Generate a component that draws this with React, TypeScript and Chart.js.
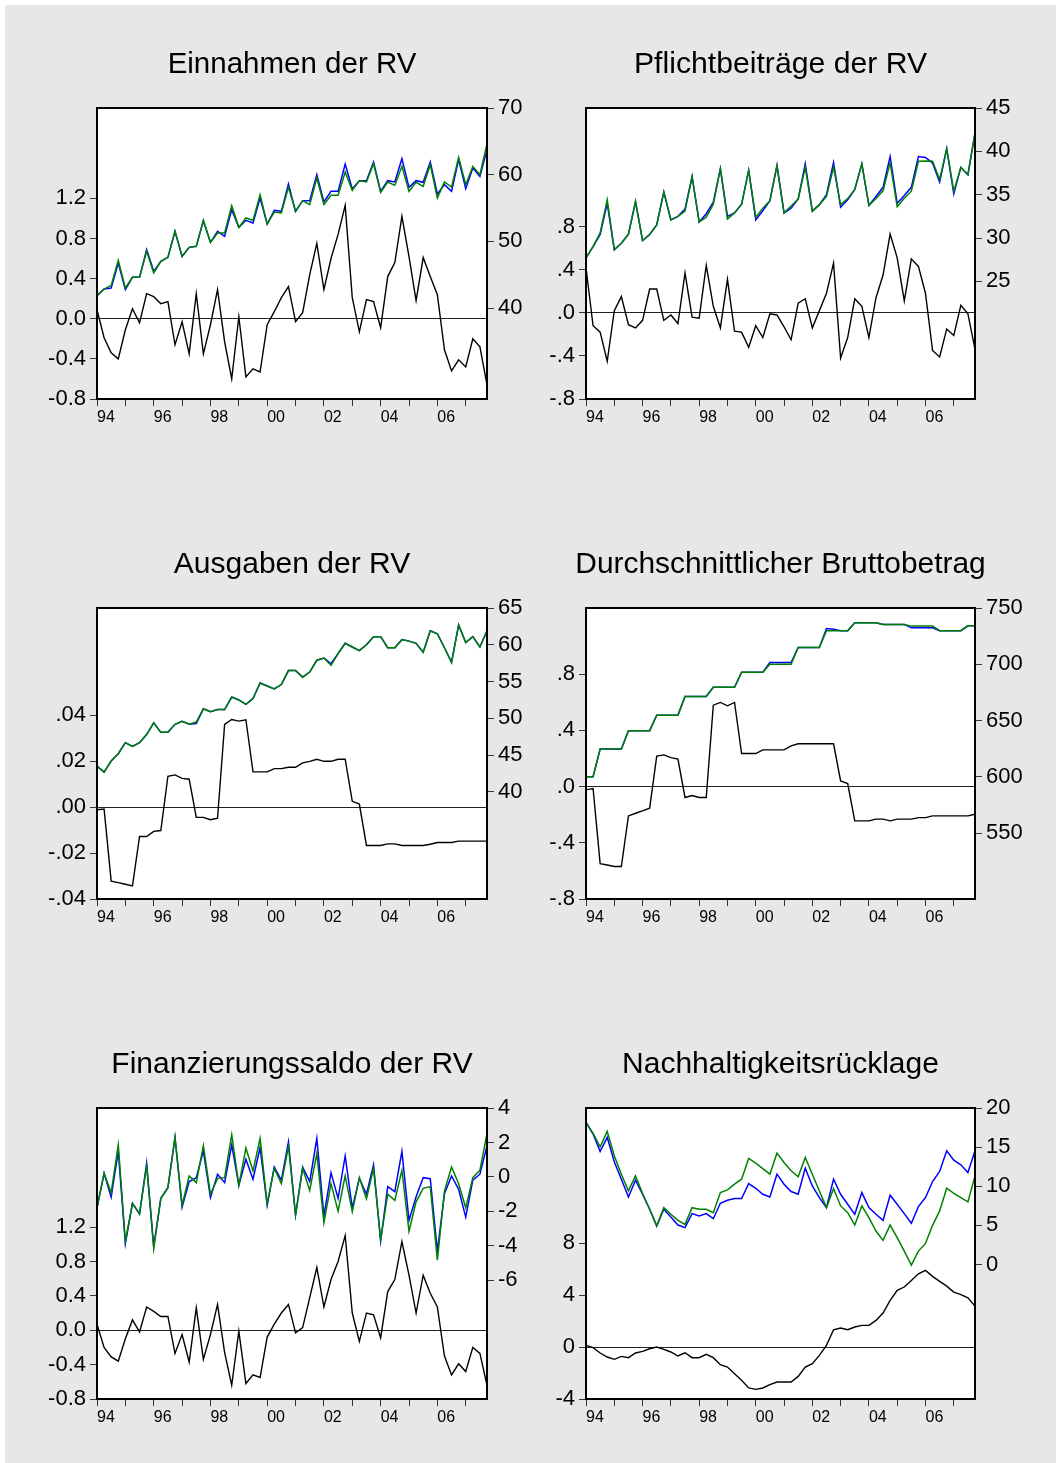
import React, { useEffect, useRef } from "react";
import { Chart, registerables } from "chart.js";

Chart.register(...registerables);

const FONT = "'Liberation Sans', Arial, Helvetica, sans-serif";

// ---- categories ----
const years = [1994, 1995, 1996, 1997, 1998, 1999, 2000, 2001, 2002, 2003, 2004, 2005, 2006, 2007];
const quarters: string[] = years.flatMap((y) => ["Q1", "Q2", "Q3", "Q4"].map((q) => `${y}${q}`));
const xTickYears = ["94", "", "96", "", "98", "", "00", "", "02", "", "04", "", "06", ""];

// ---- Einnahmen der RV ----
const einResid = [0.09, -0.19, -0.34, -0.40, -0.11, 0.10, -0.04, 0.25, 0.22, 0.15, 0.17, -0.26, -0.03, -0.35, 0.25, -0.35, -0.06, 0.29, -0.23, -0.60, 0.02, -0.58, -0.50, -0.53, -0.06, 0.07, 0.21, 0.32, -0.03, 0.06, 0.44, 0.75, 0.29, 0.60, 0.84, 1.13, 0.21, -0.13, 0.19, 0.17, -0.09, 0.42, 0.56, 1.02, 0.62, 0.18, 0.61, 0.42, 0.24, -0.31, -0.52, -0.41, -0.48, -0.20, -0.28, -0.66];
const einActual = [41.85, 42.85, 43.0, 46.75, 42.75, 44.6, 44.6, 48.75, 45.5, 47.0, 47.6, 51.5, 47.75, 49.1, 49.25, 53.1, 49.85, 51.5, 50.75, 54.75, 52.1, 53.15, 52.75, 56.5, 52.6, 54.65, 54.5, 58.6, 54.5, 56.1, 56.1, 60.0, 55.9, 57.5, 57.5, 61.6, 57.85, 59.1, 59.1, 61.9, 57.5, 59.1, 58.9, 62.4, 58.1, 59.1, 58.85, 61.9, 57.1, 58.5, 57.5, 62.25, 57.9, 61.0, 59.75, 63.75];
const einFitted = [41.85, 42.85, 43.4, 47.15, 43.0, 44.6, 44.6, 48.5, 45.25, 47.0, 47.6, 51.5, 47.75, 49.1, 49.25, 53.1, 49.85, 51.25, 51.25, 55.35, 52.1, 53.5, 53.15, 57.0, 52.6, 54.4, 54.25, 58.1, 54.5, 56.1, 55.5, 59.5, 55.5, 56.9, 56.9, 60.4, 57.65, 59.1, 58.9, 61.65, 57.35, 58.9, 58.4, 61.25, 57.5, 58.85, 58.25, 61.5, 56.5, 58.9, 58.15, 62.6, 58.5, 61.25, 60.0, 64.6];
const einLeftTicks = [-0.8, -0.4, 0, 0.4, 0.8, 1.2];
const einLeftLabels = ["-0.8", "-0.4", "0.0", "0.4", "0.8", "1.2"];
const einRightTicks = [40, 50, 60, 70];

// ---- Pflichtbeiträge der RV ----
const pflResid = [0.42, -0.12, -0.18, -0.45, 0.02, 0.15, -0.11, -0.14, -0.07, 0.22, 0.22, -0.07, -0.02, -0.10, 0.37, -0.04, -0.05, 0.44, 0.06, -0.14, 0.31, -0.17, -0.18, -0.32, -0.12, -0.23, -0.01, -0.02, -0.13, -0.25, 0.09, 0.13, -0.14, 0.02, 0.18, 0.46, -0.42, -0.23, 0.13, 0.06, -0.23, 0.14, 0.35, 0.73, 0.51, 0.11, 0.50, 0.43, 0.18, -0.35, -0.41, -0.15, -0.21, 0.07, -0.01, -0.34];
const pflActual = [27.7, 29.0, 30.4, 34.0, 28.65, 29.4, 30.45, 34.2, 29.7, 30.4, 31.5, 35.3, 32.1, 32.5, 33.35, 37.1, 31.85, 32.8, 34.15, 38.0, 32.5, 32.9, 33.9, 37.8, 32.1, 33.15, 34.3, 38.35, 32.9, 33.45, 34.5, 38.55, 33.1, 33.85, 35.0, 38.7, 33.55, 34.4, 35.6, 38.55, 33.75, 34.8, 35.85, 39.4, 34.0, 34.9, 35.85, 39.4, 39.3, 38.65, 36.45, 40.3, 35.1, 38.15, 37.3, 42.1];
const pflFitted = [27.7, 29.0, 30.6, 34.4, 28.65, 29.4, 30.45, 34.2, 29.7, 30.4, 31.5, 35.3, 32.1, 32.5, 33.1, 37.1, 31.85, 32.4, 33.9, 38.0, 32.2, 32.9, 33.9, 37.8, 32.4, 33.45, 34.3, 38.35, 32.9, 33.7, 34.5, 38.15, 33.1, 33.85, 34.8, 38.15, 33.85, 34.55, 35.6, 38.55, 33.75, 34.55, 35.45, 38.7, 33.6, 34.6, 35.4, 38.85, 38.9, 38.85, 36.75, 40.3, 35.4, 38.15, 37.3, 42.1];
const pflLeftTicks = [-0.8, -0.4, 0, 0.4, 0.8];
const pflLeftLabels = ["-.8", "-.4", ".0", ".4", ".8"];
const pflRightTicks = [25, 30, 35, 40, 45];

// ---- Ausgaben der RV ----
const ausResid = [-0.0012, -0.0009, -0.0322, -0.0329, -0.0336, -0.0343, -0.0128, -0.0128, -0.0106, -0.0102, 0.0134, 0.0140, 0.0125, 0.0121, -0.0045, -0.0045, -0.0055, -0.0048, 0.0360, 0.0381, 0.0374, 0.0380, 0.0153, 0.0153, 0.0153, 0.0167, 0.0167, 0.0173, 0.0173, 0.0192, 0.0199, 0.0208, 0.0199, 0.0199, 0.0208, 0.0208, 0.0025, 0.0013, -0.0167, -0.0167, -0.0167, -0.0160, -0.0160, -0.0167, -0.0167, -0.0167, -0.0167, -0.0162, -0.0154, -0.0154, -0.0154, -0.0148, -0.0148, -0.0148, -0.0148, -0.0148];
const ausActual = [43.5, 42.7, 44.2, 45.2, 46.7, 46.2, 46.7, 47.8, 49.4, 48.1, 48.1, 49.2, 49.6, 49.2, 49.3, 51.3, 50.9, 51.2, 51.2, 52.9, 52.5, 51.9, 52.7, 54.8, 54.4, 54.0, 54.6, 56.5, 56.5, 55.6, 56.3, 57.9, 58.2, 57.45, 58.8, 60.2, 59.7, 59.2, 60.0, 61.1, 61.1, 59.6, 59.6, 60.7, 60.5, 60.2, 59.0, 61.9, 61.5, 59.6, 57.6, 62.7, 60.3, 61.1, 59.7, 61.9];
const ausFitted = [43.5, 42.7, 44.2, 45.2, 46.7, 46.2, 46.7, 47.8, 49.4, 48.1, 48.1, 49.2, 49.6, 49.2, 49.5, 51.3, 50.9, 51.2, 51.2, 52.9, 52.5, 51.9, 52.7, 54.8, 54.4, 54.0, 54.6, 56.5, 56.5, 55.6, 56.3, 57.9, 58.2, 57.2, 58.8, 60.2, 59.7, 59.2, 60.0, 61.1, 61.1, 59.6, 59.6, 60.7, 60.5, 60.2, 59.0, 61.9, 61.5, 59.6, 57.6, 62.7, 60.3, 61.1, 59.7, 61.9];
const ausLeftTicks = [-0.04, -0.02, 0, 0.02, 0.04];
const ausLeftLabels = ["-.04", "-.02", ".00", ".02", ".04"];
const ausRightTicks = [40, 45, 50, 55, 60, 65];

// ---- Durchschnittlicher Bruttobetrag ----
const brtResid = [-0.024, -0.014, -0.548, -0.558, -0.569, -0.569, -0.209, -0.19, -0.173, -0.154, 0.216, 0.225, 0.206, 0.195, -0.078, -0.064, -0.078, -0.078, 0.579, 0.598, 0.574, 0.598, 0.235, 0.235, 0.235, 0.261, 0.261, 0.261, 0.261, 0.289, 0.304, 0.304, 0.304, 0.304, 0.304, 0.304, 0.040, 0.021, -0.244, -0.244, -0.244, -0.232, -0.232, -0.244, -0.232, -0.232, -0.232, -0.221, -0.221, -0.209, -0.209, -0.209, -0.209, -0.209, -0.209, -0.197];
const brtActual = [600, 600, 624.7, 624.7, 624.7, 624.7, 641, 641, 641, 641, 654.8, 654.8, 654.8, 654.8, 671.4, 671.4, 671.4, 671.4, 679.5, 679.5, 679.5, 679.5, 692.9, 692.9, 692.9, 692.9, 701.5, 701.5, 701.5, 701.5, 714.9, 714.9, 714.9, 714.9, 731.8, 731.2, 729.8, 729.8, 736.9, 736.9, 736.9, 736.9, 735.4, 735.4, 735.4, 735.4, 732.4, 732.4, 732.4, 732.4, 729.8, 729.8, 729.8, 729.8, 734.2, 734.2];
const brtFitted = [600, 600, 624.7, 624.7, 624.7, 624.7, 641, 641, 641, 641, 654.8, 654.8, 654.8, 654.8, 671.4, 671.4, 671.4, 671.4, 679.5, 679.5, 679.5, 679.5, 692.9, 692.9, 692.9, 692.9, 700, 700, 700, 700, 714.9, 714.9, 714.9, 714.9, 729.8, 729.8, 729.8, 729.8, 736.9, 736.9, 736.9, 736.9, 735.4, 735.4, 735.4, 735.4, 733.9, 733.9, 733.9, 733.9, 729.8, 729.8, 729.8, 729.8, 734.2, 734.2];
const brtLeftTicks = [-0.8, -0.4, 0, 0.4, 0.8];
const brtLeftLabels = ["-.8", "-.4", ".0", ".4", ".8"];
const brtRightTicks = [550, 600, 650, 700, 750];

// ---- Finanzierungssaldo der RV ----
const finResid = [0.07, -0.2, -0.31, -0.36, -0.1, 0.12, -0.02, 0.27, 0.22, 0.16, 0.16, -0.27, -0.05, -0.37, 0.26, -0.34, -0.05, 0.3, -0.26, -0.64, -0.01, -0.62, -0.52, -0.55, -0.08, 0.07, 0.2, 0.3, -0.03, 0.03, 0.38, 0.73, 0.27, 0.59, 0.8, 1.1, 0.2, -0.13, 0.2, 0.18, -0.09, 0.45, 0.59, 1.03, 0.64, 0.2, 0.64, 0.43, 0.27, -0.3, -0.52, -0.39, -0.48, -0.2, -0.27, -0.64];
const finActual = [-1.79, 0.21, -1.17, 1.5, -3.88, -1.53, -2.14, 0.8, -4.02, -1.24, -0.62, 2.29, -1.75, -0.27, -0.04, 1.51, -1.2, 0.16, -0.33, 1.86, -0.49, 1.03, -0.14, 1.71, -1.65, 0.58, -0.19, 2.04, -2.21, 0.58, -0.27, 2.23, -2.27, 0.25, -1.24, 1.22, -1.79, -0.08, -1.0, 0.7, -3.73, -0.56, -0.85, 1.48, -2.52, -1.15, -0.04, -0.1, -4.31, -0.97, 0.06, -0.72, -2.33, -0.19, 0.16, 1.81];
const finFitted = [-1.79, 0.21, -0.91, 1.86, -3.73, -1.53, -2.14, 0.64, -4.16, -1.24, -0.62, 2.29, -1.63, 0.06, -0.33, 1.81, -1.0, -0.08, -0.04, 2.45, -0.49, 1.67, 0.35, 2.23, -1.55, 0.5, -0.39, 1.77, -2.21, 0.5, -0.78, 1.37, -2.66, -0.39, -1.98, 0.06, -2.02, -0.04, -1.26, 0.5, -3.63, -1.0, -1.36, 0.39, -3.15, -1.44, -0.66, -0.56, -4.83, -0.82, 0.58, -0.39, -1.79, -0.04, 0.39, 2.52];
const finLeftTicks = [-0.8, -0.4, 0, 0.4, 0.8, 1.2];
const finLeftLabels = ["-0.8", "-0.4", "0.0", "0.4", "0.8", "1.2"];
const finRightTicks = [-6, -4, -2, 0, 2, 4];

// ---- Nachhaltigkeitsrücklage ----
const nhrResid = [0.13, -0.05, -0.46, -0.77, -0.95, -0.72, -0.82, -0.46, -0.33, -0.13, 0.0, -0.18, -0.38, -0.69, -0.44, -0.82, -0.82, -0.56, -0.82, -1.36, -1.54, -2.05, -2.56, -3.15, -3.26, -3.15, -2.9, -2.69, -2.69, -2.69, -2.26, -1.54, -1.28, -0.64, 0.13, 1.33, 1.46, 1.33, 1.54, 1.67, 1.67, 2.05, 2.62, 3.59, 4.36, 4.62, 5.13, 5.64, 5.9, 5.44, 5.05, 4.69, 4.23, 4.03, 3.79, 3.15];
const nhrActual = [18.16, 16.67, 14.44, 16.24, 13.12, 10.9, 8.63, 10.77, 8.97, 7.05, 4.91, 7.05, 6.07, 5.04, 4.7, 6.5, 6.2, 6.5, 5.85, 7.82, 8.21, 8.42, 8.42, 10.34, 9.74, 8.97, 8.63, 11.54, 10.26, 9.32, 8.97, 12.31, 10.04, 8.55, 7.26, 10.9, 8.97, 7.69, 6.41, 9.19, 7.26, 6.41, 5.64, 8.85, 7.69, 6.5, 5.26, 7.39, 8.55, 10.6, 11.88, 14.53, 13.33, 12.74, 11.75, 14.53];
const nhrFitted = [18.16, 16.75, 15.04, 17.0, 13.89, 11.54, 9.4, 11.32, 9.06, 7.05, 4.91, 7.26, 6.41, 5.64, 5.13, 7.26, 7.05, 7.05, 6.62, 9.19, 9.53, 10.26, 10.9, 13.55, 12.95, 12.26, 11.54, 14.23, 13.03, 11.97, 11.2, 13.68, 11.54, 9.4, 7.26, 9.7, 7.48, 6.62, 5.04, 7.48, 5.98, 4.27, 3.08, 5.04, 3.42, 1.71, -0.09, 1.71, 2.69, 5.0, 6.84, 9.74, 9.1, 8.55, 7.99, 11.32];
const nhrLeftTicks = [-4, 0, 4, 8];
const nhrLeftLabels = ["-4", "0", "4", "8"];
const nhrRightTicks = [0, 5, 10, 15, 20];

type Spec = {
  title: string;
  titleSize: number;
  resid: number[];
  actual: number[];
  fitted: number[];
  leftMin: number;
  leftMax: number;
  leftTicks: number[];
  leftLabels: string[];
  rightMin: number;
  rightMax: number;
  rightTicks: number[];
  left: number;
  top: number;
  plotW: number;
};

const AXIS_W = 87; // both side axes the same width so the title centres over the plot
const CANVAS_H = 420;

const specs: Spec[] = [
  { title: "Einnahmen der RV", titleSize: 29.5, resid: einResid, actual: einActual, fitted: einFitted, leftMin: -0.8, leftMax: 2.1, leftTicks: einLeftTicks, leftLabels: einLeftLabels, rightMin: 26.35, rightMax: 70, rightTicks: einRightTicks, left: 10, top: 20, plotW: 390 },
  { title: "Pflichtbeiträge der RV", titleSize: 30.2, resid: pflResid, actual: pflActual, fitted: pflFitted, leftMin: -0.8, leftMax: 1.9, leftTicks: pflLeftTicks, leftLabels: pflLeftLabels, rightMin: 11.43, rightMax: 45, rightTicks: pflRightTicks, left: 499, top: 20, plotW: 389 },
  { title: "Ausgaben der RV", titleSize: 30, resid: ausResid, actual: ausActual, fitted: ausFitted, leftMin: -0.04, leftMax: 0.0866, leftTicks: ausLeftTicks, leftLabels: ausLeftLabels, rightMin: 25.45, rightMax: 65, rightTicks: ausRightTicks, left: 10, top: 520, plotW: 390 },
  { title: "Durchschnittlicher Bruttobetrag", titleSize: 29.9, resid: brtResid, actual: brtActual, fitted: brtFitted, leftMin: -0.8, leftMax: 1.27, leftTicks: brtLeftTicks, leftLabels: brtLeftLabels, rightMin: 491.4, rightMax: 750, rightTicks: brtRightTicks, left: 499, top: 520, plotW: 389 },
  { title: "Finanzierungssaldo der RV", titleSize: 30, resid: finResid, actual: finActual, fitted: finFitted, leftMin: -0.8, leftMax: 2.585, leftTicks: finLeftTicks, leftLabels: finLeftLabels, rightMin: -12.88, rightMax: 4, rightTicks: finRightTicks, left: 10, top: 1020, plotW: 390 },
  { title: "Nachhaltigkeitsrücklage", titleSize: 30, resid: nhrResid, actual: nhrActual, fitted: nhrFitted, leftMin: -4, leftMax: 18.4, leftTicks: nhrLeftTicks, leftLabels: nhrLeftLabels, rightMin: -17.2, rightMax: 20, rightTicks: nhrRightTicks, left: 499, top: 1020, plotW: 389 },
];

const framePlugin = {
  id: "frame",
  beforeDraw(chart: any) {
    const { ctx, chartArea: a } = chart;
    ctx.save();
    ctx.fillStyle = "#ffffff";
    ctx.fillRect(a.left, a.top, a.right - a.left, a.bottom - a.top);
    ctx.restore();
  },
  afterDraw(chart: any) {
    const { ctx, chartArea: a } = chart;
    ctx.save();
    ctx.strokeStyle = "#000000";
    ctx.lineWidth = 2;
    ctx.strokeRect(a.left, a.top, a.right - a.left, a.bottom - a.top);
    ctx.restore();
  },
};

function Panel({ spec }: { spec: Spec }) {
  const ref = useRef<HTMLCanvasElement>(null);
  const canvasW = AXIS_W * 2 + spec.plotW;
  useEffect(() => {
    if (!ref.current) return;
    const tickFont = { family: FONT, size: 22 };
    const titleLine = spec.titleSize * 1.2;
    const titleTop = 45 - titleLine / 2;
    const titleBottom = 88 - titleTop - titleLine;
    const chart = new Chart(ref.current, {
      type: "line",
      data: {
        labels: quarters,
        datasets: [
          { label: "Fitted", data: spec.fitted, borderColor: "#008000", borderWidth: 1.5, yAxisID: "yR" },
          { label: "Actual", data: spec.actual, borderColor: "#0000ff", borderWidth: 1.5, yAxisID: "yR" },
          { label: "Residual", data: spec.resid, borderColor: "#000000", borderWidth: 1.4, yAxisID: "yL" },
        ],
      },
      options: {
        responsive: false,
        animation: false,
        devicePixelRatio: 1,
        events: [],
        layout: { padding: 0 },
        elements: { point: { radius: 0 }, line: { tension: 0, fill: false } },
        plugins: {
          legend: { display: false },
          tooltip: { enabled: false },
          title: {
            display: true,
            text: spec.title,
            color: "#000000",
            font: { family: FONT, size: spec.titleSize, weight: "normal", lineHeight: 1.2 },
            padding: { top: titleTop, bottom: titleBottom },
          },
        },
        scales: {
          x: {
            type: "category",
            offset: false,
            grid: { drawOnChartArea: false, drawTicks: true, tickLength: 7, tickColor: "#333333", lineWidth: 1, offset: false },
            border: { display: false },
            ticks: {
              autoSkip: false,
              maxRotation: 0,
              minRotation: 0,
              align: "start",
              padding: 2,
              color: "#000000",
              font: { family: FONT, size: 16 },
              callback: (v: any) => xTickYears[Math.round(Number(v) / 4)] ?? "",
            },
            afterBuildTicks: (s: any) => {
              s.ticks = s.ticks.filter((t: any) => t.value % 4 === 0);
            },
            afterFit: (s: any) => {
              s.height = 41;
            },
          },
          yL: {
            type: "linear",
            position: "left",
            min: spec.leftMin,
            max: spec.leftMax,
            afterBuildTicks: (s: any) => {
              s.ticks = spec.leftTicks.map((v) => ({ value: v }));
            },
            ticks: {
              color: "#000000",
              font: tickFont,
              padding: 4,
              callback: (v: any) => spec.leftLabels[spec.leftTicks.indexOf(Number(v))] ?? "",
            },
            grid: {
              drawOnChartArea: true,
              color: (ctx: any) => (ctx.tick && ctx.tick.value === 0 ? "#222222" : "rgba(0,0,0,0)"),
              tickColor: "#333333",
              tickLength: 7,
              lineWidth: 1,
            },
            border: { display: false },
            afterFit: (s: any) => {
              s.width = AXIS_W;
            },
          },
          yR: {
            type: "linear",
            position: "right",
            min: spec.rightMin,
            max: spec.rightMax,
            afterBuildTicks: (s: any) => {
              s.ticks = spec.rightTicks.map((v) => ({ value: v }));
            },
            ticks: {
              color: "#000000",
              font: tickFont,
              padding: 4,
              callback: (v: any) => String(v),
            },
            grid: { drawOnChartArea: false, tickColor: "#333333", tickLength: 7, lineWidth: 1 },
            border: { display: false },
            afterFit: (s: any) => {
              s.width = AXIS_W;
            },
          },
        },
      } as any,
      plugins: [framePlugin],
    });
    return () => chart.destroy();
  }, [spec]);
  return (
    <canvas
      ref={ref}
      width={canvasW}
      height={CANVAS_H}
      style={{ position: "absolute", left: spec.left, top: spec.top, width: canvasW, height: CANVAS_H }}
    />
  );
}

export default function App() {
  return (
    <div style={{ position: "absolute", left: 0, top: 0, width: 1056, height: 1463, background: "#ffffff", overflow: "hidden" }}>
      <div style={{ position: "absolute", left: 5, top: 5, width: 1051, height: 1458, background: "#e7e7e7" }} />
      {specs.map((s) => (
        <Panel key={s.title} spec={s} />
      ))}
    </div>
  );
}
